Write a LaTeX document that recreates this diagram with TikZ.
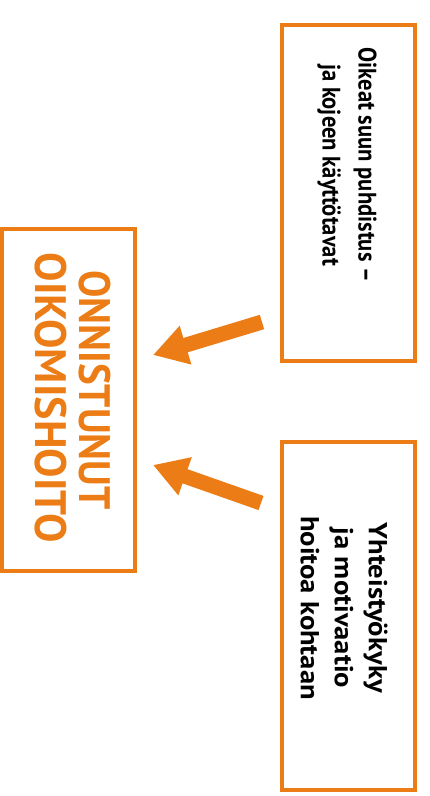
\documentclass[tikz,border=0pt]{standalone}
\usepackage{fontspec}
\setmainfont{PT Sans}
\newfontfamily\narrowfont[FakeStretch=0.89]{PT Sans}
\newfontfamily\widefont[FakeStretch=1.1]{PT Sans}
\usetikzlibrary{arrows.meta}
\definecolor{org}{RGB}{236,125,22}
\begin{document}
\begin{tikzpicture}[x=0.75pt,y=-0.75pt,
  box/.style={draw=org, line width=3pt, inner sep=0pt, minimum width=99.75pt},
  btext/.style={rotate=-90, align=center, text=black, inner sep=0pt},
  otext/.style={rotate=-90, font=\bfseries\fontsize{33}{33}\selectfont, align=center, text=org, inner sep=0pt},
  bigarrow/.style={draw=org, line width=11.25pt, -{Triangle[width=28.5pt,length=25.5pt]}}]
\useasboundingbox (0,0) rectangle (429,796);
\node[box, minimum height=256.5pt] (goal) at (68.5,400) {};
\node[box, minimum height=252pt] (clean) at (348.5,193) {};
\node[box, minimum height=261pt] (coop) at (348.5,616) {};
\node[otext] (goaltxt) at (73,398) {\scalebox{0.93}[1]{ONNISTUNUT}\hspace*{12pt}\\OIKOMISHOITO};
\node[btext, font=\narrowfont\bfseries\fontsize{19}{27}\selectfont] (cleantxt) at (347,165) {Oikeat suun puhdistus –\\ja kojeen käyttötavat};
\node[btext, font=\widefont\bfseries\fontsize{19.5}{25.5}\selectfont] (cooptxt) at (344,608) {Yhteistyökyky\\ja motivaatio\\hoitoa kohtaan};
\coordinate (a1s) at (262,322);
\coordinate (a1e) at (153,355);
\coordinate (a2s) at (261,503);
\coordinate (a2e) at (153,465);
\draw[bigarrow] (a1s) -- (a1e);
\draw[bigarrow] (a2s) -- (a2e);
\end{tikzpicture}
\end{document}
